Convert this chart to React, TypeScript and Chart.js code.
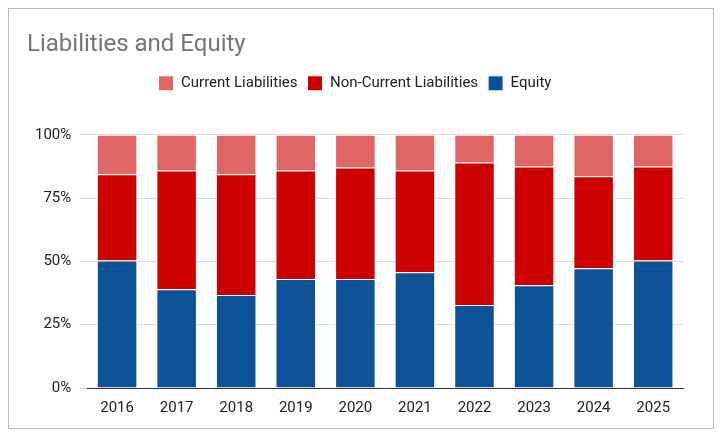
import React, { useEffect, useRef } from "react";
import { Chart, registerables } from "chart.js";
Chart.register(...registerables);

const years = ["2016","2017","2018","2019","2020","2021","2022","2023","2024","2025"];
const equity = [50.4, 39.0, 36.7, 43.0, 43.0, 45.7, 32.8, 40.6, 47.3, 50.4];
const nonCurrent = [34.0, 46.9, 47.7, 42.9, 44.1, 40.2, 56.3, 46.9, 36.3, 37.1];
const current = [15.6, 14.1, 15.6, 14.1, 12.9, 14.1, 10.9, 12.5, 16.4, 12.5];
const yTicks = ["0%", "25%", "50%", "75%", "100%"];

const legendSpace = {
  id: "legendSpace",
  beforeInit(chart: any) {
    const orig = chart.legend.fit;
    chart.legend.fit = function () {
      orig.bind(chart.legend)();
      this.height += 34;
    };
  },
};

export default function App() {
  const ref = useRef<HTMLCanvasElement>(null);
  useEffect(() => {
    const font = { family: "Roboto", size: 15 };
    const chart = new Chart(ref.current!, {
      type: "bar",
      plugins: [legendSpace],
      data: {
        labels: years,
        datasets: [
          { label: "Equity", data: equity, backgroundColor: "#0d5196" },
          { label: "Non-Current Liabilities", data: nonCurrent, backgroundColor: "#cc0000" },
          { label: "Current Liabilities", data: current, backgroundColor: "#e06666" },
        ].map((d) => ({ ...d, borderColor: "#ffffff", borderWidth: 1, categoryPercentage: 0.68, barPercentage: 1 })),
      },
      options: {
        animation: false,
        responsive: true,
        maintainAspectRatio: false,
        layout: { padding: { left: 6, right: 26, bottom: 4 } },
        plugins: {
          title: { display: true, text: "Liabilities and Equity", align: "start", color: "#757575",
            font: { family: "Roboto", size: 24, weight: "normal" }, padding: { top: 16, bottom: 6 } },
          legend: {
            reverse: true,
            labels: { color: "#222", font, boxWidth: 15, boxHeight: 15, padding: 10 },
          },
          tooltip: { enabled: false },
        },
        scales: {
          x: { stacked: true, grid: { display: false }, border: { color: "#333" },
            ticks: { color: "#222", font } },
          y: { stacked: true, min: 0, max: 100,
            grid: { color: "#dddddd" }, border: { display: false },
            ticks: { stepSize: 25, color: "#222", font, padding: 8,
              callback: (v: any) => yTicks[Math.round(Number(v) / 25)] } },
        },
      },
    });
    return () => chart.destroy();
  }, []);
  return (
    <div style={{ width: 706, height: 421, border: "1px solid #bbb", boxSizing: "border-box", padding: "6px 4px 4px 12px" }}>
      <div style={{ position: "relative", width: "100%", height: "100%" }}>
        <canvas ref={ref} />
      </div>
    </div>
  );
}
